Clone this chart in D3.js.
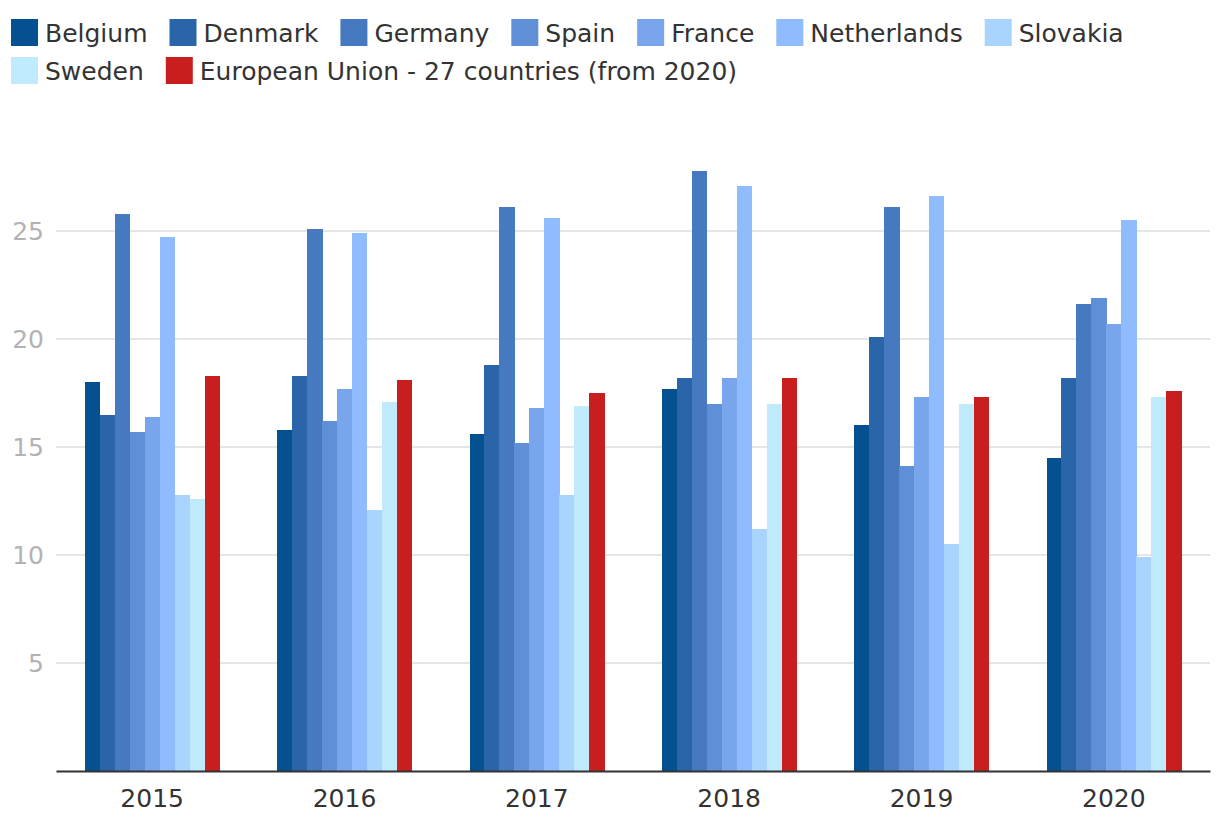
<!DOCTYPE html>
<html><head><meta charset="utf-8">
<script src="https://cdn.jsdelivr.net/npm/d3@7"></script>
<style>
html,body{margin:0;padding:0;background:#fff;}
svg{display:block;font-family:"DejaVu Sans",sans-serif;}
</style></head>
<body>
<svg id="chart" width="1220" height="834"></svg>
<script>
const years = ["2015","2016","2017","2018","2019","2020"];
const countries = ["Belgium","Denmark","Germany","Spain","France","Netherlands","Slovakia","Sweden","European Union - 27 countries (from 2020)"];
const colors = ["#045091","#2b65a9","#4679c0","#5f8fd6","#78a5ec","#8fbcfe","#a8d4fe","#c0ebff","#c81e1e"];
const belgium     = [18.0,15.8,15.6,17.7,16.0,14.5];
const denmark     = [16.5,18.3,18.8,18.2,20.1,18.2];
const germany     = [25.8,25.1,26.1,27.8,26.1,21.6];
const spain       = [15.7,16.2,15.2,17.0,14.1,21.9];
const france      = [16.4,17.7,16.8,18.2,17.3,20.7];
const netherlands = [24.7,24.9,25.6,27.1,26.6,25.5];
const slovakia    = [12.8,12.1,12.8,11.2,10.5,9.9];
const sweden      = [12.6,17.1,16.9,17.0,17.0,17.3];
const eu27        = [18.3,18.1,17.5,18.2,17.3,17.6];
const yTicks = [5,10,15,20,25];

const series = [belgium,denmark,germany,spain,france,netherlands,slovakia,sweden,eu27];

const svg = d3.select("#chart");
const W = 1220, H = 834;
const margin = {left:56, right:10, top:123, bottom:63};
const x0 = d3.scaleBand().domain(years).range([margin.left, W - margin.right]).paddingInner(0.3).paddingOuter(0.15);
const x1 = d3.scaleBand().domain(countries).range([0, x0.bandwidth()]);
const y = d3.scaleLinear().domain([0,30]).range([H - margin.bottom, margin.top]);

// gridlines
svg.append("g").selectAll("line").data(yTicks).join("line")
  .attr("x1", margin.left).attr("x2", W - margin.right)
  .attr("y1", d => y(d)).attr("y2", d => y(d))
  .attr("stroke", "#e6e6e6").attr("stroke-width", 2);

// y labels
svg.append("g").selectAll("text").data(yTicks).join("text")
  .attr("x", 44).attr("y", d => y(d)).attr("dy", "0.35em")
  .attr("text-anchor", "end").attr("fill", "#b3b3b3")
  .attr("font-size", 25).text(d => d);

// bars
const groups = svg.append("g").attr("shape-rendering", "crispEdges").selectAll("g").data(years).join("g")
  .attr("transform", d => `translate(${x0(d)},0)`);
groups.selectAll("rect").data((yr, i) => countries.map((c, k) => ({c, k, v: series[k][i]}))).join("rect")
  .attr("x", d => x1(d.c)).attr("width", x1.bandwidth() + 0.5)
  .attr("y", d => y(d.v)).attr("height", d => y(0) - y(d.v))
  .attr("fill", d => colors[d.k]);

// x axis
const xAxis = svg.append("g").attr("transform", `translate(0,${y(0)})`)
  .call(d3.axisBottom(x0).tickSize(0).tickPadding(18));
xAxis.select(".domain").attr("stroke", "#333").attr("stroke-width", 2);
xAxis.selectAll("text").attr("font-size", 25).attr("fill", "#333").attr("font-family", "DejaVu Sans, sans-serif");

// legend
const legend = svg.append("g");
let lx = 11, ly = 19;
const rowH = 38, sq = 27;
countries.forEach((c, k) => {
  const g = legend.append("g");
  g.append("rect").attr("width", sq).attr("height", sq).attr("fill", colors[k]);
  const t = g.append("text").attr("x", sq + 7).attr("y", sq/2).attr("dy", "0.36em")
    .attr("font-size", 25).attr("fill", "#333").text(c);
  const w = sq + 7 + t.node().getComputedTextLength();
  if (lx + w > W - 10) { lx = 11; ly += rowH; }
  g.attr("transform", `translate(${lx},${ly})`);
  lx += w + 22;
});
</script>
</body></html>
